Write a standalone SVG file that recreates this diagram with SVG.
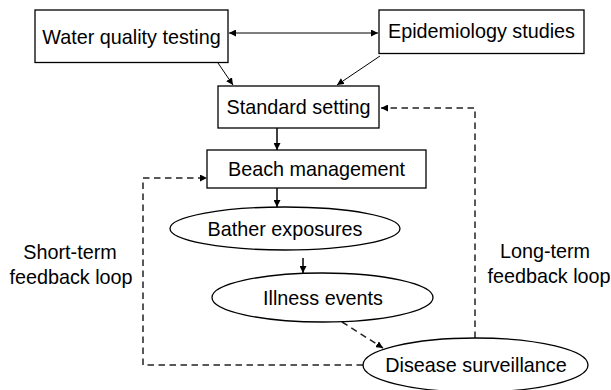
<svg xmlns="http://www.w3.org/2000/svg" width="611" height="390" viewBox="0 0 611 390">
<style>
.box{fill:#fff;stroke:#000;stroke-width:1.3}
.lbl{font-family:"Liberation Sans",Arial,sans-serif;font-size:19.8px;fill:#000;text-anchor:middle}
.ln{fill:none;stroke:#000;stroke-width:1}
.ln2{fill:none;stroke:#000;stroke-width:1.5}
.dash{fill:none;stroke:#222;stroke-width:1.5;stroke-dasharray:6.5,4.5}
</style>
<defs>
<marker id="ah" viewBox="0 0 10 10" refX="10" refY="5" markerWidth="7" markerHeight="7" markerUnits="userSpaceOnUse" orient="auto-start-reverse">
<path d="M0,0 L10,5 L0,10 z" fill="#000"/>
</marker>
</defs>
<g id="connectors">
<line class="ln" x1="229" y1="33" x2="378" y2="33" marker-start="url(#ah)" marker-end="url(#ah)"/>
<line class="ln" x1="218" y1="63" x2="233" y2="85" marker-end="url(#ah)"/>
<line class="ln" x1="380" y1="56" x2="337" y2="85" marker-end="url(#ah)"/>
<line class="ln2" x1="277" y1="128" x2="277" y2="150" marker-end="url(#ah)"/>
<line class="ln2" x1="277" y1="188" x2="277" y2="207" marker-end="url(#ah)"/>
<line class="ln2" x1="303" y1="258" x2="303" y2="273" marker-end="url(#ah)"/>
<line class="dash" x1="342" y1="322" x2="383" y2="348" marker-end="url(#ah)"/>
<polyline class="dash" points="475,338 475,108 381,108" marker-end="url(#ah)"/>
<polyline class="dash" points="363,365 143,365 143,178 207,178" marker-end="url(#ah)"/>
</g>
<g id="water">
<rect class="box" x="35" y="10" width="193" height="52.5"/>
<text class="lbl" x="131.5" y="44">Water quality testing</text>
</g>
<g id="epidemiology">
<rect class="box" x="379" y="10" width="205" height="43.5"/>
<text class="lbl" x="481.5" y="38">Epidemiology studies</text>
</g>
<g id="standard">
<rect class="box" x="218" y="86" width="161" height="42"/>
<text class="lbl" x="298.5" y="114">Standard setting</text>
</g>
<g id="beach">
<rect class="box" x="207" y="150" width="219" height="38"/>
<text class="lbl" x="316.5" y="176">Beach management</text>
</g>
<g id="bather">
<ellipse class="box" cx="285" cy="228.5" rx="115" ry="21.5"/>
<text class="lbl" x="285" y="236">Bather exposures</text>
</g>
<g id="illness">
<ellipse class="box" cx="322.5" cy="297.5" rx="110.5" ry="24.5"/>
<text class="lbl" x="323" y="305">Illness events</text>
</g>
<g id="disease">
<ellipse class="box" cx="475.5" cy="365" rx="112.5" ry="27"/>
<text class="lbl" x="476" y="372">Disease surveillance</text>
</g>
<g id="shortterm">
<text class="lbl" x="70" y="259">Short-term</text>
<text class="lbl" x="71" y="284">feedback loop</text>
</g>
<g id="longterm">
<text class="lbl" x="545" y="258">Long-term</text>
<text class="lbl" x="549" y="283">feedback loop</text>
</g>
</svg>
